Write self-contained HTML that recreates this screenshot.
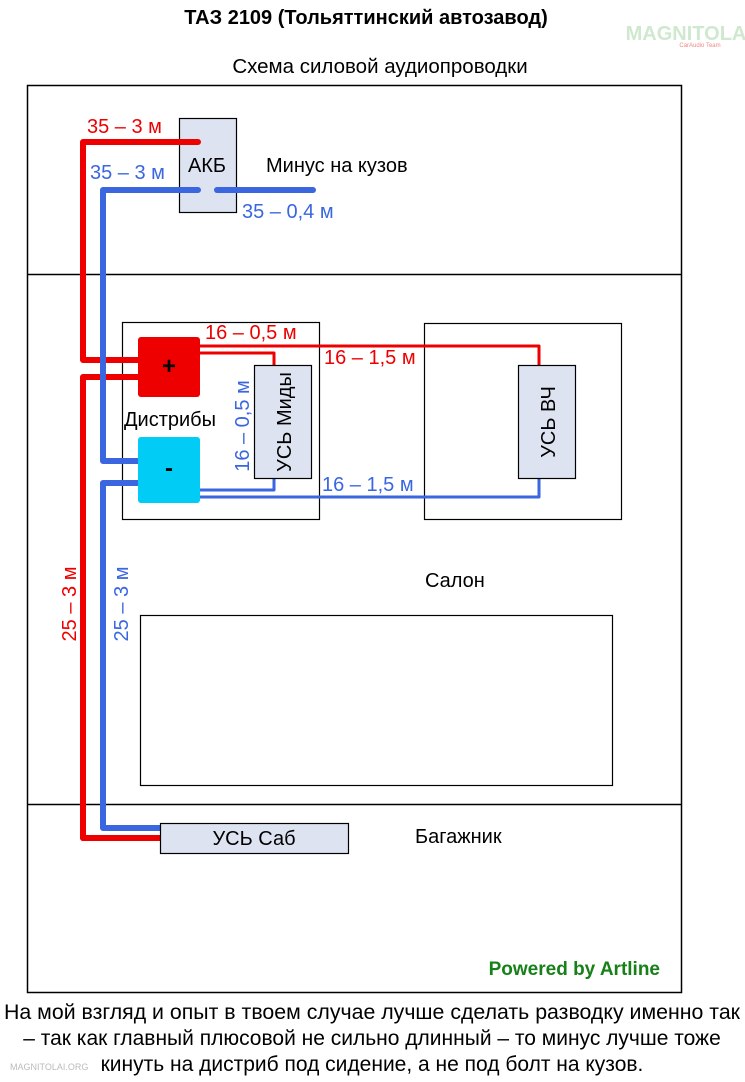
<!DOCTYPE html>
<html><head><meta charset="utf-8"><style>
body{margin:0;background:#fff;}
svg text{font-family:"Liberation Sans",sans-serif;}
</style></head><body>
<svg width="745" height="1077" viewBox="0 0 745 1077" xmlns="http://www.w3.org/2000/svg">
<rect width="745" height="1077" fill="#fff"/>
<text x="366" y="24" text-anchor="middle" font-size="20" font-weight="bold">ТАЗ 2109 (Тольяттинский автозавод)</text>
<text x="686" y="40" text-anchor="middle" font-size="20" font-weight="bold" fill="#cfe8cf">MAGNITOLA</text>
<text x="700" y="47" text-anchor="middle" font-size="6" fill="#e88">CarAudio Team</text>
<text x="380" y="73" text-anchor="middle" font-size="20.5">Схема силовой аудиопроводки</text>
<rect x="27.5" y="85.5" width="654" height="907" fill="none" stroke="#000" stroke-width="1.5"/>
<line x1="27" y1="274.5" x2="681" y2="274.5" stroke="#000" stroke-width="1.5"/>
<line x1="27" y1="804.5" x2="681" y2="804.5" stroke="#000" stroke-width="1.5"/>
<rect x="179.5" y="118.5" width="57" height="94" fill="#dde3f0" stroke="#000" stroke-width="1.2"/>
<text x="207" y="172" text-anchor="middle" font-size="20">АКБ</text>
<text x="266" y="172" font-size="20">Минус на кузов</text>
<text x="87" y="133" font-size="20" fill="#e00">35 – 3 м</text>
<text x="90" y="179" font-size="20" fill="#3a66e0">35 – 3 м</text>
<text x="242" y="218" font-size="20" fill="#3a66e0">35 – 0,4 м</text>
<rect x="122.5" y="322.5" width="197" height="197" fill="none" stroke="#000" stroke-width="1.2"/>
<rect x="424.5" y="323.5" width="197" height="196" fill="none" stroke="#000" stroke-width="1.2"/>
<rect x="140.5" y="615.5" width="472" height="170" fill="none" stroke="#000" stroke-width="1.2"/>
<g fill="none" stroke-linecap="round" stroke-linejoin="round">
<path d="M198 142 H83 V360 H140" stroke="#e00" stroke-width="6"/>
<path d="M83 838 V377 H140" stroke="#e00" stroke-width="6"/>
<path d="M160 838 H83" stroke="#e00" stroke-width="6"/>
<path d="M198 190 H103 V461 H140" stroke="#3a66e0" stroke-width="6"/>
<path d="M217 190 H313" stroke="#3a66e0" stroke-width="6"/>
<path d="M140 483 H103 V828 H160" stroke="#3a66e0" stroke-width="6"/>
<path d="M198 346 H539 V365" stroke="#e00" stroke-width="3"/>
<path d="M198 353 H274 V365" stroke="#e00" stroke-width="3"/>
<path d="M198 490 H274 V478" stroke="#3a66e0" stroke-width="3"/>
<path d="M198 497 H539 V478" stroke="#3a66e0" stroke-width="3"/>
</g>
<rect x="138" y="337" width="62" height="60" rx="3" fill="#ee0000"/>
<text x="169" y="374" text-anchor="middle" font-size="24" font-weight="bold">+</text>
<rect x="138" y="437" width="62" height="66" rx="3" fill="#00ccf5"/>
<text x="169" y="476" text-anchor="middle" font-size="24" font-weight="bold">-</text>
<text x="124" y="426" font-size="20">Дистрибы</text>
<rect x="254.5" y="365.5" width="57" height="113" fill="#dde3f0" stroke="#000" stroke-width="1.2"/>
<text transform="translate(291 422) rotate(-90)" text-anchor="middle" font-size="20">УСЬ Миды</text>
<rect x="518.5" y="365.5" width="57" height="113" fill="#dde3f0" stroke="#000" stroke-width="1.2"/>
<text transform="translate(555 422) rotate(-90)" text-anchor="middle" font-size="20">УСЬ ВЧ</text>
<text x="205" y="339" font-size="20" fill="#e00">16 – 0,5 м</text>
<text x="324" y="364" font-size="20" fill="#e00">16 – 1,5 м</text>
<text x="322" y="491" font-size="20" fill="#3a66e0">16 – 1,5 м</text>
<text transform="translate(249 426) rotate(-90)" text-anchor="middle" font-size="20" fill="#3a66e0">16 – 0,5 м</text>
<text transform="translate(76 604) rotate(-90)" text-anchor="middle" font-size="20" fill="#e00">25 – 3 м</text>
<text transform="translate(128 604) rotate(-90)" text-anchor="middle" font-size="20" fill="#3a66e0">25 – 3 м</text>
<text x="425" y="587" font-size="20">Салон</text>
<rect x="160.5" y="823.5" width="188" height="30" fill="#dde3f0" stroke="#000" stroke-width="1.2"/>
<text x="254" y="845" text-anchor="middle" font-size="20">УСЬ Саб</text>
<text x="415" y="843" font-size="20">Багажник</text>
<text x="660" y="975" text-anchor="end" font-size="19" font-weight="bold" fill="#188018">Powered by Artline</text>
<text x="372" y="1019" text-anchor="middle" font-size="21" textLength="736" lengthAdjust="spacingAndGlyphs">На мой взгляд и опыт в твоем случае лучше сделать разводку именно так</text>
<text x="372" y="1045" text-anchor="middle" font-size="21">– так как главный плюсовой не сильно длинный – то минус лучше тоже</text>
<text x="372" y="1071" text-anchor="middle" font-size="21">кинуть на дистриб под сидение, а не под болт на кузов.</text>
<text x="10" y="1070" font-size="9" fill="#bbb">MAGNITOLAI.ORG</text>
</svg>
</body></html>
